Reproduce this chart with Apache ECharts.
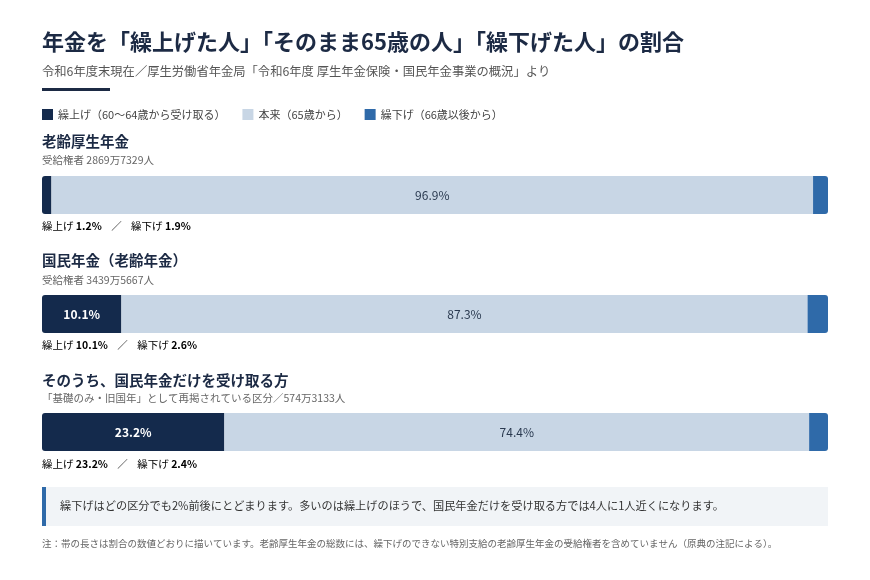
<!DOCTYPE html>
<html><head><meta charset="utf-8">
<script src="https://cdn.jsdelivr.net/npm/echarts@6/dist/echarts.min.js"></script>
<style>html,body{margin:0;padding:0;background:#fff}#c{width:870px;height:580px}</style>
</head><body><div id="c"></div>
<script>
const categories = ['老齢厚生年金', '国民年金（老齢年金）', 'そのうち、国民年金だけを受け取る方'];
const subtitles = ['受給権者 2869万7329人', '受給権者 3439万5667人', '「基礎のみ・旧国年」として再掲されている区分／574万3133人'];
const seriesNames = ['繰上げ（60〜64歳から受け取る）', '本来（65歳から）', '繰下げ（66歳以後から）'];
const kuriage = [1.2, 10.1, 23.2];
const honrai = [96.9, 87.3, 74.4];
const kurisage = [1.9, 2.6, 2.4];

const FONT = '"Noto Sans CJK JP", "Noto Sans", sans-serif';
const NAVY = '#142a4c', LIGHT = '#c8d6e5', BLUE = '#2f6aa9';
const gridTops = [176, 295, 413];
const secTitleY = [141, 260, 380];
const secSubY = [160, 280, 398];
const secLblY = [226, 345, 464];

const grids = [], xAxes = [], yAxes = [], series = [];
gridTops.forEach((t, i) => {
  grids.push({left: 42, width: 786, top: t, height: 38});
  xAxes.push({type: 'value', gridIndex: i, min: 0, max: 100, show: false});
  yAxes.push({type: 'category', gridIndex: i, data: [categories[i]], show: false});
  const vals = [kuriage[i], honrai[i], kurisage[i]];
  const colors = [NAVY, LIGHT, BLUE];
  const radii = [[3,0,0,3],[0,0,0,0],[0,3,3,0]];
  vals.forEach((v, k) => {
    series.push({
      type: 'bar', name: seriesNames[k], stack: 's' + i,
      xAxisIndex: i, yAxisIndex: i, barWidth: 38,
      itemStyle: {color: colors[k], borderRadius: radii[k]},
      label: {
        show: k < 2 && v >= 5, position: 'inside',
        formatter: p => p.value.toFixed(1) + '%',
        fontFamily: FONT, fontSize: 12,
        fontWeight: k === 0 ? 'bold' : 'normal',
        color: k === 0 ? '#ffffff' : '#2a3a50'
      },
      emphasis: {disabled: true},
      data: [v]
    });
  });
});

const graphic = [
  {type: 'text', x: 42, y: 42, style: {text: '年金を「繰上げた人」「そのまま65歳の人」「繰下げた人」の割合', font: 'bold 22px ' + FONT, fill: '#1c2a44', textVerticalAlign: 'middle'}},
  {type: 'text', x: 42, y: 71, style: {text: '令和6年度末現在／厚生労働省年金局「令和6年度 厚生年金保険・国民年金事業の概況」より', font: '12.3px ' + FONT, fill: '#555', textVerticalAlign: 'middle'}},
  {type: 'rect', shape: {x: 42, y: 88, width: 68, height: 3}, style: {fill: '#1c2a44'}},
  {type: 'rect', shape: {x: 42, y: 487, width: 786, height: 39}, style: {fill: '#f1f4f7'}},
  {type: 'rect', shape: {x: 42, y: 487, width: 4, height: 39}, style: {fill: BLUE}},
  {type: 'text', x: 60, y: 506, style: {text: '繰下げはどの区分でも2%前後にとどまります。多いのは繰上げのほうで、国民年金だけを受け取る方では4人に1人近くになります。', font: '11.2px ' + FONT, fill: '#333', textVerticalAlign: 'middle'}},
  {type: 'text', x: 42, y: 543, style: {text: '注：帯の長さは割合の数値どおりに描いています。老齢厚生年金の総数には、繰下げのできない特別支給の老齢厚生年金の受給権者を含めていません（原典の注記による）。', font: '9.5px ' + FONT, fill: '#666', textVerticalAlign: 'middle'}}
];
categories.forEach((c, i) => {
  graphic.push({type: 'text', x: 42, y: secTitleY[i], style: {text: c, font: 'bold 14.5px ' + FONT, fill: '#1c2a44', textVerticalAlign: 'middle'}});
  graphic.push({type: 'text', x: 42, y: secSubY[i], style: {text: subtitles[i], font: '10.5px ' + FONT, fill: '#666', textVerticalAlign: 'middle'}});
  graphic.push({type: 'text', x: 42, y: secLblY[i], style: {
    text: '{a|繰上げ }{b|' + kuriage[i].toFixed(1) + '%}{s|    ／    }{a|繰下げ }{b|' + kurisage[i].toFixed(1) + '%}',
    textVerticalAlign: 'middle',
    rich: {
      a: {fontFamily: FONT, fontSize: 10.5, color: '#555'},
      b: {fontFamily: FONT, fontSize: 10.5, fontWeight: 'bold', color: '#1c2a44'},
      s: {fontFamily: FONT, fontSize: 10.5, color: '#888'}
    }
  }});
});

const chart = echarts.init(document.getElementById('c'), null, {renderer: 'canvas'});
chart.setOption({
  animation: false,
  legend: {
    data: seriesNames, left: 37, top: 104, icon: 'rect', itemWidth: 11, itemHeight: 11, itemGap: 17,
    textStyle: {fontFamily: FONT, fontSize: 11, color: '#444'}, selectedMode: false
  },
  grid: grids, xAxis: xAxes, yAxis: yAxes, series: series, graphic: graphic
});
</script></body></html>
